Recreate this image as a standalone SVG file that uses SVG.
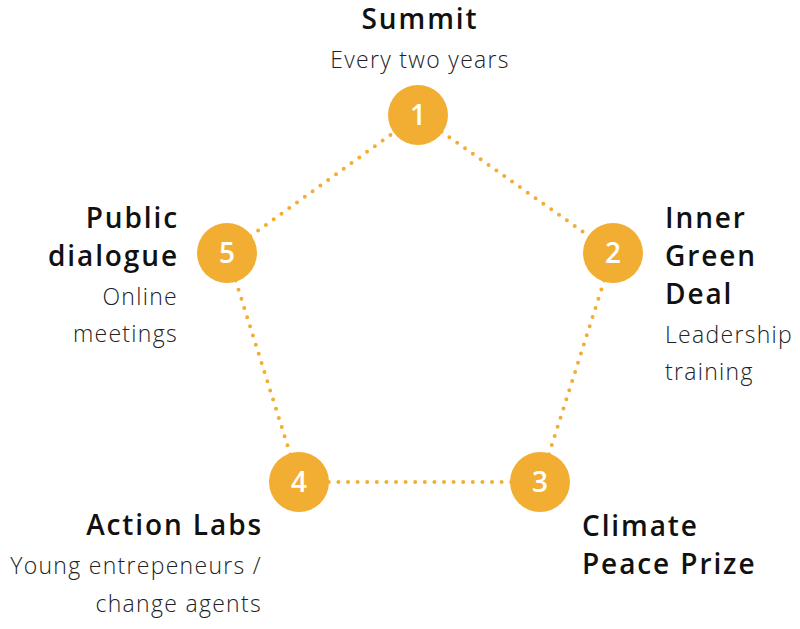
<svg xmlns="http://www.w3.org/2000/svg" width="800" height="629" viewBox="0 0 800 629">
<style>
.t{font-family:"Open Sans","Noto Sans","Liberation Sans",sans-serif;font-weight:600;font-size:28px;letter-spacing:1.9px;fill:#111}
.s{font-family:"Open Sans","Noto Sans","Liberation Sans",sans-serif;font-weight:300;font-size:23px;letter-spacing:1.3px;fill:#222}
.n{font-family:"Open Sans","Noto Sans","Liberation Sans",sans-serif;font-weight:600;font-size:28px;fill:#fff;text-anchor:middle}
.c{fill:#F2AE32}
.e{text-anchor:end}
.m{text-anchor:middle}
</style>
<rect width="800" height="629" fill="#fff"/>
<g id="connectors" fill="none" stroke="#F2AE32" stroke-width="4" stroke-linecap="round" stroke-dasharray="0 9.6">
<line x1="418" y1="115" x2="613" y2="253"/>
<line x1="613" y1="253" x2="540" y2="482"/>
<line x1="540" y1="482" x2="299" y2="482"/>
<line x1="299" y1="482" x2="227" y2="253"/>
<line x1="227" y1="253" x2="418" y2="115"/>
</g>
<g id="node1">
<circle class="c" cx="418" cy="115" r="30"/>
<text class="n" x="418" y="125">1</text>
<text class="t m" x="420" y="29">Summit</text>
<text class="s m" x="420" y="68">Every two years</text>
</g>
<g id="node2">
<circle class="c" cx="613" cy="253" r="30"/>
<text class="n" x="613" y="263">2</text>
<text class="t" x="665" y="228">Inner</text>
<text class="t" x="665" y="266">Green</text>
<text class="t" x="665" y="304">Deal</text>
<text class="s" x="665" y="343">Leadership</text>
<text class="s" x="665" y="380">training</text>
</g>
<g id="node3">
<circle class="c" cx="540" cy="482" r="30"/>
<text class="n" x="540" y="492">3</text>
<text class="t" x="582" y="536">Climate</text>
<text class="t" x="582" y="574">Peace Prize</text>
</g>
<g id="node4">
<circle class="c" cx="299" cy="482" r="30"/>
<text class="n" x="299" y="492">4</text>
<text class="t e" x="263" y="535">Action Labs</text>
<text class="s e" x="262" y="574">Young entrepeneurs /</text>
<text class="s e" x="262" y="612">change agents</text>
</g>
<g id="node5">
<circle class="c" cx="227" cy="253" r="30"/>
<text class="n" x="227" y="263">5</text>
<text class="t e" x="179" y="228">Public</text>
<text class="t e" x="179" y="266">dialogue</text>
<text class="s e" x="178" y="305">Online</text>
<text class="s e" x="178" y="342">meetings</text>
</g>
</svg>
